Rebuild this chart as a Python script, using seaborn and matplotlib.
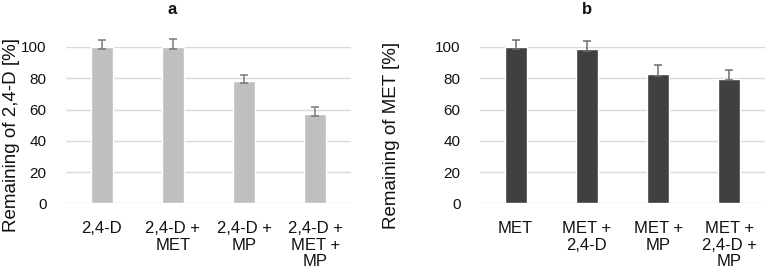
import seaborn as sns
import matplotlib.pyplot as plt
import pandas as pd

# values
cats_a = ["2,4-D", "2,4-D +\nMET", "2,4-D +\nMP", "2,4-D +\nMET +\nMP"]
vals_a = [100, 100, 78, 57]
err_lo_a = [1.3, 1.3, 1.0, 1.0]
err_hi_a = [4.5, 5.3, 4.2, 4.9]

cats_b = ["MET", "MET +\n2,4-D", "MET +\nMP", "MET +\n2,4-D +\nMP"]
vals_b = [100, 98.5, 82.5, 79.7]
err_lo_b = [1.0, 1.0, 1.0, 1.0]
err_hi_b = [4.7, 5.5, 6.0, 5.6]

sns.set_theme(style="white")
plt.rcParams['font.family'] = ['Liberation Sans', 'DejaVu Sans']

fig = plt.figure(figsize=(7.65, 2.68), dpi=100)
ax_a = fig.add_axes([66 / 765, 1 - 203.3 / 268, 285 / 765, 156.3 / 268])
ax_b = fig.add_axes([480 / 765, 1 - 203.3 / 268, 285 / 765, 156.3 / 268])

# axes, categories, values, errors, bar colour, error colour, ylabel, tag, label x, tag x
panels = [
    (ax_a, cats_a, vals_a, err_lo_a, err_hi_a, "#bfbfbf", "#7a7a7a",
     "Remaining of 2,4-D [%]", "a", 12, 172),
    (ax_b, cats_b, vals_b, err_lo_b, err_hi_b, "#404040", "#6e6e6e",
     "Remaining of MET [%]", "b", 392, 587),
]

for ax, cats, vals, lo, hi, col, ecol, ylab, tag, lx, tx in panels:
    df = pd.DataFrame({"cat": cats, "val": vals})
    sns.barplot(data=df, x="cat", y="val", color=col, saturation=1,
                width=0.31, ax=ax, zorder=2)
    ax.errorbar(range(len(cats)), vals, yerr=[lo, hi], fmt="none",
                ecolor=ecol, elinewidth=1.1, capsize=3.2, capthick=1.1,
                zorder=3, clip_on=False)
    ax.set_ylim(0, 100)
    ax.set_xlim(-0.5, len(cats) - 0.5)
    ax.set_yticks(range(0, 101, 20))
    ax.grid(axis="y", color="#d9d9d9", linewidth=1, zorder=0)
    ax.set_axisbelow(True)
    for s in ax.spines.values():
        s.set_visible(False)
    ax.tick_params(axis="y", length=0, pad=14, labelsize=11, labelcolor="#111111")
    ax.tick_params(axis="x", length=0, pad=13, labelsize=12, labelcolor="#111111")
    for lab in ax.get_xticklabels():
        lab.set_linespacing(1.1)
    ax.set_xlabel("")
    ax.set_ylabel("")
    fig.text(lx / 765, 1 - 135 / 268, ylab, rotation=90, ha="center",
             va="center", fontsize=13.5, color="#111111")
    fig.text(tx / 765, 1 - 9 / 268, tag, ha="center", va="center",
             fontsize=12, fontweight="bold", color="#111111")

fig.savefig("out.png", dpi=100)
